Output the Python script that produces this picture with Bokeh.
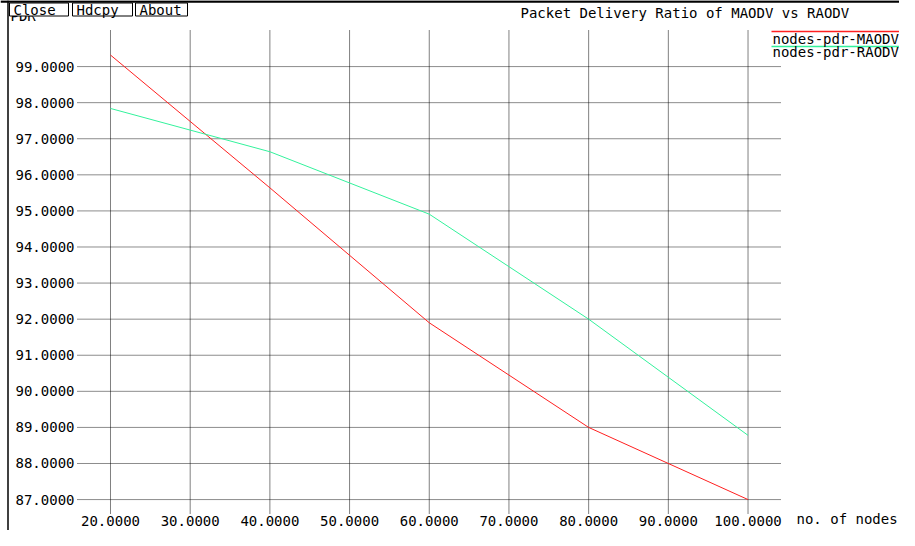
from bokeh.plotting import figure
from bokeh.models import Range1d, Label, LabelSet, ColumnDataSource, BoxAnnotation
from bokeh.core.properties import value
from bokeh.embed import file_html
from bokeh.resources import INLINE

# ---- data ----
nodes = [20, 40, 60, 80, 100]
pdr_maodv = [99.32, 95.64, 91.90, 89.00, 87.00]
pdr_raodv = [97.84, 96.64, 94.91, 92.00, 88.78]
series_names = ["nodes-pdr-MAODV", "nodes-pdr-RAODV"]
x_ticks = [20, 30, 40, 50, 60, 70, 80, 90, 100]
y_ticks = [87, 88, 89, 90, 91, 92, 93, 94, 95, 96, 97, 98, 99]
title_text = "Packet Delivery Ratio of MAODV vs RAODV"
x_title = "no. of nodes"
y_title = "PDR"
buttons = ["Close", "Hdcpy", "About"]

# ---- layout (canvas pixels) ----
W, H = 899, 530
FL, FR, FT, FB = 77, 781, 30, 520          # plotting area inside the canvas
X0, X1 = 15.86, 104.2                      # data value at FL / FR
Y0, Y1 = 86.42, 100.0                      # data value at FB / FT
FONT = "DejaVu Sans Mono"
FS = "14px"
RED = "#ff2020"
GREEN = "#33f29c"


def dx(cx):
    return X0 + (cx - FL) * (X1 - X0) / (FR - FL)


def dy(cy):
    return Y1 - (cy - FT) * (Y1 - Y0) / (FB - FT)


p = figure(width=W, height=H, output_backend="svg", toolbar_location=None, title=None,
           x_range=Range1d(dx(0), dx(W)), y_range=Range1d(dy(H), dy(0)),
           x_axis_location=None, y_axis_location=None,
           min_border=0, min_border_left=0, min_border_right=0,
           min_border_top=0, min_border_bottom=0)
p.outline_line_color = None
p.background_fill_color = "white"
p.border_fill_color = "white"
p.grid.visible = False

# window frame lines (top bar, left edge)
p.segment(x0=dx(0), y0=dy(1), x1=dx(W + 5), y1=dy(1), line_color="black", line_width=2.5)
p.segment(x0=dx(7.5), y0=dy(0), x1=dx(7.5), y1=dy(H + 5), line_color="black", line_width=1.5)

# dotted grid inside the plotting area
p.segment(x0=x_ticks, y0=dy(FB - 7), x1=x_ticks, y1=Y1, line_color="black",
          line_dash="1 1", line_width=1, line_alpha=1.0)
p.segment(x0=X0, y0=y_ticks, x1=X1, y1=y_ticks, line_color="black",
          line_dash="1 1", line_width=1, line_alpha=0.9)

p.line(nodes, pdr_maodv, line_color=RED, line_width=1)
p.line(nodes, pdr_raodv, line_color=GREEN, line_width=1)

# tick labels
xsrc = ColumnDataSource(dict(x=x_ticks, text=[f"{v:.4f}" for v in x_ticks]))
p.add_layout(LabelSet(x="x", y=dy(520.5), text="text", source=xsrc,
                      text_align="center", text_baseline="middle",
                      text_font=value(FONT), text_font_size=value(FS),
                      text_color="black"))
ysrc = ColumnDataSource(dict(y=y_ticks, text=[f"{v:.4f}" for v in y_ticks]))
p.add_layout(LabelSet(x=dx(FL - 3), y="y", text="text", source=ysrc,
                      text_align="right", text_baseline="middle",
                      text_font=value(FONT), text_font_size=value(FS),
                      text_color="black"))

# y title (mostly hidden behind buttons)
p.add_layout(Label(x=dx(10), y=dy(7), text=y_title, text_font=FONT, text_font_size=FS,
                   text_align="left", text_baseline="top", text_color="black"))

# buttons
btn_boxes = [(9, 68), (72, 132), (135, 187)]
for name, (l, r) in zip(buttons, btn_boxes):
    p.add_layout(BoxAnnotation(left=dx(l), right=dx(r), top=dy(2.5), bottom=dy(15.5),
                               fill_color="white", fill_alpha=1, line_color="black",
                               line_width=1, line_alpha=1))
    p.add_layout(Label(x=dx(l + 4), y=dy(9), text=name, text_font=FONT,
                       text_font_size=FS, text_align="left", text_baseline="middle",
                       text_color="black"))

# title
p.add_layout(Label(x=dx(520), y=dy(12), text=title_text, text_font=FONT, text_font_size=FS,
                   text_align="left", text_baseline="middle", text_color="black"))

# legend
for name, col, ly, ty in zip(series_names, [RED, GREEN], [31, 46], [38, 51.5]):
    p.segment(x0=dx(771), y0=dy(ly), x1=dx(W + 5), y1=dy(ly), line_color=col,
              line_width=1.5)
    p.add_layout(Label(x=dx(772), y=dy(ty), text=name, text_font=FONT,
                       text_font_size=FS, text_align="left", text_baseline="middle",
                       text_color="black"))

# x title
p.add_layout(Label(x=dx(796), y=dy(518), text=x_title, text_font=FONT, text_font_size=FS,
                   text_align="left", text_baseline="middle", text_color="black"))

open("out.html", "w").write(file_html(p, INLINE))
